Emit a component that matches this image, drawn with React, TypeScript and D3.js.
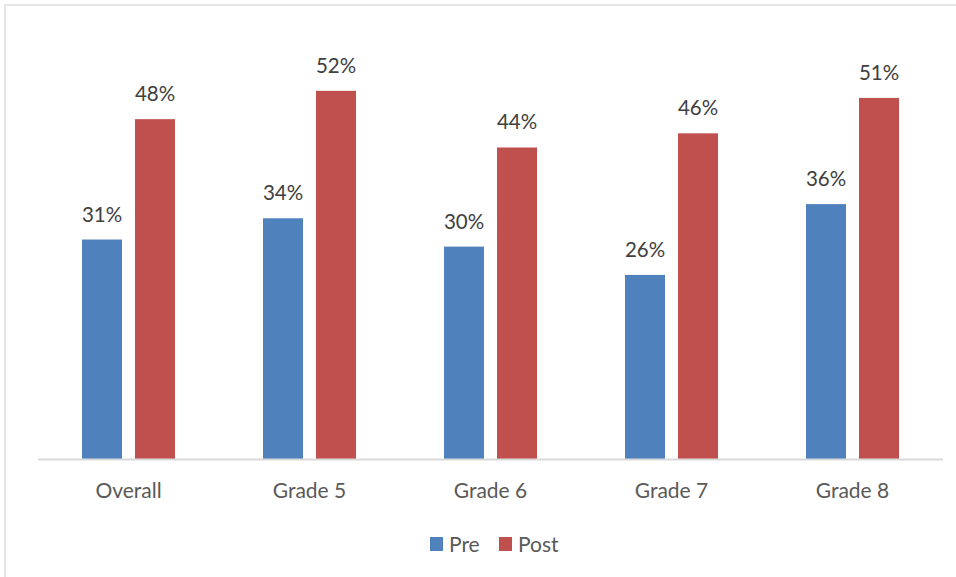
import React from "react";
import * as d3 from "d3";

const categories = ["Overall", "Grade 5", "Grade 6", "Grade 7", "Grade 8"];
const preValues = [31, 34, 30, 26, 36];
const postValues = [48, 52, 44, 46, 51];
const seriesNames = ["Pre", "Post"];
const seriesColors = ["#4F81BD", "#C0504D"];

const W = 956;
const H = 577;
const FONT = "Lato, 'Open Sans', 'Liberation Sans', sans-serif";

export default function App() {
  const baseY = 459;
  const x = d3.scaleBand<string>().domain(categories).range([38, 943]);
  const y = d3.scaleLinear().domain([0, 60]).range([baseY, baseY - 60 * 7.08]);
  const barW = 40;
  const gap = 13;
  const series = [preValues, postValues];

  return (
    <svg
      width={W}
      height={H}
      style={{ position: "absolute", left: 0, top: 0, background: "#fff" }}
    >
      <rect x={5} y={5} width={W + 10} height={H + 10} fill="#fff" stroke="#d9d9d9" strokeWidth={1.3} />
      {categories.map((c, i) => {
        const cx = (x(c) as number) + x.bandwidth() / 2;
        return (
          <g key={c}>
            {series.map((vals, s) => {
              const bx = s === 0 ? cx - gap / 2 - barW : cx + gap / 2;
              const v = vals[i];
              return (
                <g key={s}>
                  <rect x={bx} y={y(v)} width={barW} height={baseY - y(v)} fill={seriesColors[s]} />
                  <text
                    x={bx + barW / 2}
                    y={y(v) - 18}
                    textAnchor="middle"
                    fontFamily={FONT}
                    fontSize={20.5}
                    fill="#404040"
                  >
                    {v}%
                  </text>
                </g>
              );
            })}
            <text x={cx} y={498} textAnchor="middle" fontFamily={FONT} fontSize={21} fill="#595959">
              {c}
            </text>
          </g>
        );
      })}
      <line x1={38} x2={943} y1={baseY + 0.5} y2={baseY + 0.5} stroke="#d9d9d9" strokeWidth={2} />
      {/* legend */}
      {seriesNames.map((n, i) => {
        const lx = i === 0 ? 430 : 499;
        return (
          <g key={n}>
            <rect x={lx} y={537} width={13} height={14} fill={seriesColors[i]} />
            <text x={lx + 19} y={552} fontFamily={FONT} fontSize={21} fill="#595959">
              {n}
            </text>
          </g>
        );
      })}
    </svg>
  );
}
